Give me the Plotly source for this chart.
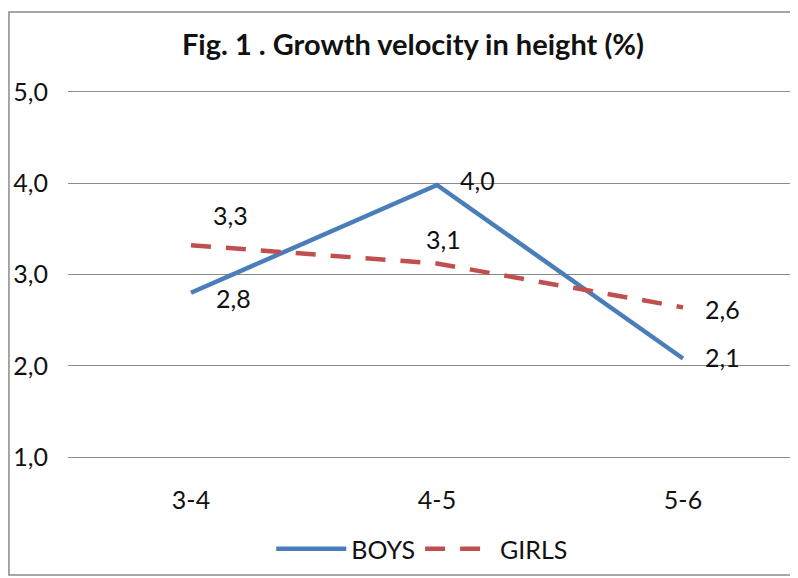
import plotly.graph_objects as go

categories = ["3-4", "4-5", "5-6"]
boys = [2.8, 3.98, 2.08]
girls = [3.32, 3.12, 2.64]
boys_labels = ["2,8", "4,0", "2,1"]
girls_labels = ["3,3", "3,1", "2,6"]
y_ticks = [1, 2, 3, 4, 5]
y_tick_text = ["1,0", "2,0", "3,0", "4,0", "5,0"]

FONT = "Lato"
BLUE = "#4A7EBB"
RED = "#C0504D"
FS = 25

fig = go.Figure()
fig.add_trace(go.Scatter(x=categories, y=boys, mode="lines", name="BOYS",
                         line=dict(color=BLUE, width=4.5)))
fig.add_trace(go.Scatter(x=categories, y=girls, mode="lines", name="GIRLS",
                         line=dict(color=RED, width=4.5, dash="20px,15px")))

# data labels
boys_off = [(42, -5), (40, 5), (39, 2)]
girls_off = [(39, 30), (6, 25), (39, -2)]
for cat, v, lab, (dx, dy) in zip(categories, boys, boys_labels, boys_off):
    fig.add_annotation(x=cat, y=v, text=lab, showarrow=False, xshift=dx, yshift=dy,
                       font=dict(family=FONT, size=FS, color="#111"))
for cat, v, lab, (dx, dy) in zip(categories, girls, girls_labels, girls_off):
    fig.add_annotation(x=cat, y=v, text=lab, showarrow=False, xshift=dx, yshift=dy,
                       font=dict(family=FONT, size=FS, color="#111"))

# outer chart border (paper coords derived from plot-area pixels)
H_PLOT = 369.0
fig.add_shape(type="rect", xref="paper", yref="paper", x0=-0.0800, x1=1.05,
              y0=-(567 - 451) / H_PLOT, y1=(451 - 4) / H_PLOT,
              line=dict(color="#8a8a8a", width=1.5))

fig.update_layout(
    width=798, height=578,
    margin=dict(l=60, r=0, t=82, b=127, autoexpand=False),
    paper_bgcolor="white", plot_bgcolor="white",
    title=dict(text="<b>Fig. 1 . Growth velocity in height (%)</b>",
               x=0.4675, xanchor="center", xref="paper",
               y=1 - 37 / 578, yref="container", yanchor="middle",
               font=dict(family=FONT, size=29, color="#111")),
    xaxis=dict(range=[-0.5, 2.5], showgrid=False, showline=False, zeroline=False,
               ticks="", ticklabelstandoff=24,
               tickfont=dict(family=FONT, size=FS, color="#111")),
    yaxis=dict(range=[0.98, 5.02], tickvals=y_ticks, ticktext=y_tick_text,
               showgrid=True, gridcolor="#8c8c8c", gridwidth=1.2,
               zeroline=False, showline=False, ticks="", ticklabelstandoff=19,
               tickfont=dict(family=FONT, size=FS, color="#111")),
    legend=dict(orientation="h", x=0.48, xanchor="center",
                y=-(541 - 451) / H_PLOT, yanchor="middle",
                font=dict(family=FONT, size=FS, color="#111"), itemwidth=70,
                bgcolor="rgba(0,0,0,0)"),
    showlegend=True,
)

fig.write_html("out.html")
